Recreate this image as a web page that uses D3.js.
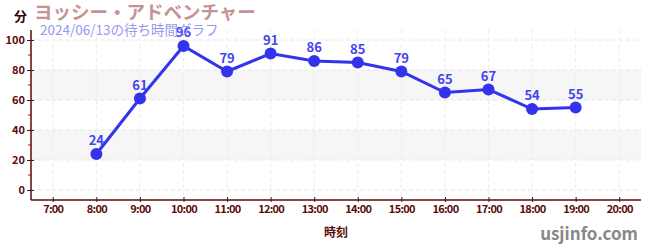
<!DOCTYPE html>
<html><head><meta charset="utf-8">
<script src="https://cdn.jsdelivr.net/npm/d3@7"></script>
<style>body{margin:0;background:#fff}svg{display:block}</style>
</head><body><svg id="c" width="650" height="250"></svg>
<script>
const hours = [8, 9, 10, 11, 12, 13, 14, 15, 16, 17, 18, 19];
const waits = [24, 61, 96, 79, 91, 86, 85, 79, 65, 67, 54, 55];
const xTicks = [7, 8, 9, 10, 11, 12, 13, 14, 15, 16, 17, 18, 19, 20];
const yTicks = [0, 20, 40, 60, 80, 100];
const yMinor = [10, 30, 50, 70, 90];
const bands = [[20, 40], [60, 80]];
const title = "ヨッシー・アドベンチャー";
const subtitle = "2024/06/13の待ち時間グラフ";

const svg = d3.select("#c");
const L = 31, R = 641, T = 30, B = 200;
const x = d3.scaleLinear().domain([6.5, 20.5]).range([L, R]);
const y = d3.scaleLinear().domain([-6.67, 106.67]).range([B, T]);
const font = "'Noto Sans CJK JP', 'Noto Sans', sans-serif";
const dark = "#5a0a0a";

// bands
svg.selectAll("rect.band").data(bands).join("rect")
  .attr("x", L).attr("width", R - L)
  .attr("y", d => y(d[1])).attr("height", d => y(d[0]) - y(d[1]))
  .attr("fill", "#f6f6f6");

// grid
svg.selectAll("line.hg").data(yTicks).join("line")
  .attr("x1", L).attr("x2", R).attr("y1", d => y(d)).attr("y2", d => y(d))
  .attr("stroke", "#e6e6e6").attr("stroke-dasharray", "4,3");
svg.selectAll("line.vg").data(xTicks).join("line")
  .attr("x1", d => x(d)).attr("x2", d => x(d)).attr("y1", T).attr("y2", B)
  .attr("stroke", "#ececec").attr("stroke-dasharray", "4,3");

// y axis
const ya = svg.append("g").attr("transform", `translate(${L},0)`)
  .call(d3.axisLeft(y).tickValues(yTicks).tickSize(4).tickSizeOuter(0));
ya.select(".domain").remove();
ya.selectAll(".tick line").attr("stroke", "#222").attr("x2", 3).attr("x1", -4);
ya.selectAll(".tick text").attr("x", -6).attr("font-family", font).attr("font-size", 11)
  .attr("font-weight", "bold").attr("fill", dark);
svg.selectAll("line.mn").data(yMinor).join("line")
  .attr("x1", L - 3).attr("x2", L).attr("y1", d => y(d)).attr("y2", d => y(d))
  .attr("stroke", "#d00");
svg.append("line").attr("x1", L).attr("x2", L).attr("y1", T).attr("y2", B)
  .attr("stroke", dark).attr("stroke-width", 1.5);

// x axis
const xa = svg.append("g").attr("transform", `translate(0,${B})`)
  .call(d3.axisBottom(x).tickValues(xTicks).tickFormat(d => d + ":00").tickSize(3).tickSizeOuter(0));
xa.select(".domain").remove();
xa.selectAll(".tick line").attr("stroke", "#222").attr("y1", -3).attr("y2", 2);
xa.selectAll(".tick text").attr("y", 5).attr("font-family", font).attr("font-size", 11)
  .attr("font-weight", "bold").attr("fill", dark).attr("letter-spacing", "-0.7");
svg.append("line").attr("x1", L).attr("x2", R).attr("y1", B).attr("y2", B)
  .attr("stroke", dark).attr("stroke-width", 1.5);

// line
const pts = hours.map((h, i) => [h, waits[i]]);
svg.append("path").datum(pts)
  .attr("d", d3.line().x(d => x(d[0])).y(d => y(d[1])))
  .attr("fill", "none").attr("stroke", "#3333ee").attr("stroke-width", 3);
svg.selectAll("circle.p").data(pts).join("circle")
  .attr("cx", d => x(d[0])).attr("cy", d => y(d[1])).attr("r", 6).attr("fill", "#3333ee");
svg.selectAll("text.v").data(pts).join("text")
  .attr("x", d => x(d[0])).attr("y", d => y(d[1]) - 9)
  .attr("text-anchor", "middle").attr("font-family", font).attr("font-size", 13)
  .attr("font-weight", "bold").attr("fill", "#4444ee").text(d => d[1]);

// titles
svg.append("text").attr("x", 14).attr("y", 21).attr("font-family", font)
  .attr("font-size", 13).attr("font-weight", "bold").attr("fill", "#3a0000").text("分");
svg.append("text").attr("x", 34).attr("y", 19).attr("font-family", font)
  .attr("font-size", 18.5).attr("font-weight", "bold").attr("fill", "#c49494").text(title);
svg.append("text").attr("x", 40).attr("y", 35).attr("font-family", font)
  .attr("font-size", 13.5).attr("fill", "#9898f0").text(subtitle);
svg.append("text").attr("x", (L + R) / 2).attr("y", 237).attr("text-anchor", "middle")
  .attr("font-family", font).attr("font-size", 12).attr("font-weight", "bold")
  .attr("fill", dark).text("時刻");
svg.append("text").attr("x", 638).attr("y", 240).attr("text-anchor", "end")
  .attr("font-family", font).attr("font-size", 17).attr("font-weight", "bold")
  .attr("fill", "#888").text("usjinfo.com");
</script></body></html>
